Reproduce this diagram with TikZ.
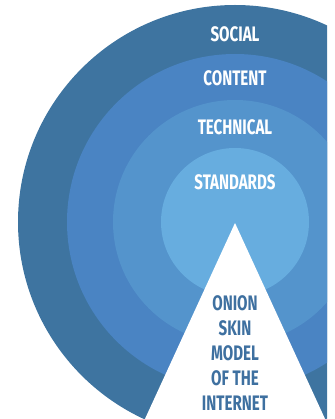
\documentclass[tikz,border=0pt]{standalone}
\usepackage{fontspec}
\setmainfont{Fira Sans}[FakeStretch=0.72]
\definecolor{ringA}{HTML}{3E74A0}
\definecolor{ringB}{HTML}{4A84C3}
\definecolor{ringC}{HTML}{5494CC}
\definecolor{ringD}{HTML}{67ADDF}
\definecolor{deeptext}{HTML}{3E70A0}
\tikzset{
  ringlabel/.style={text=white, font=\fontsize{21}{25}\selectfont\bfseries, inner sep=0pt, anchor=center},
  titlelabel/.style={text=deeptext, font=\fontsize{21}{25}\selectfont\bfseries, align=center, inner sep=0pt, anchor=center}
}
\begin{document}
\begin{tikzpicture}[x=1pt,y=-1pt]
\useasboundingbox (0,0) rectangle (334,419);
\coordinate (ctr) at (235,222);
\begin{scope}
  \clip (0,0) rectangle (327,419);
  \fill[ringA] (ctr) circle (217pt);
  \fill[ringB] (ctr) circle (168pt);
  \fill[ringC] (ctr) circle (122pt);
  \fill[ringD] (ctr) circle (74pt);
  \coordinate (apex) at (235,223);
  \coordinate (baseL) at (144,421);
  \coordinate (baseR) at (326,421);
  \fill[white] (apex) -- (baseL) -- (baseR) -- cycle;
\end{scope}
\node[ringlabel] (social) at (235,34) {SOCIAL};
\node[ringlabel] (content) at (235,78) {CONTENT};
\node[ringlabel] (technical) at (235,127) {TECHNICAL};
\node[ringlabel] (standards) at (235,182) {STANDARDS};
\node[titlelabel] (title) at (235,353) {ONION\\SKIN\\MODEL\\OF THE\\INTERNET};
\end{tikzpicture}
\end{document}
